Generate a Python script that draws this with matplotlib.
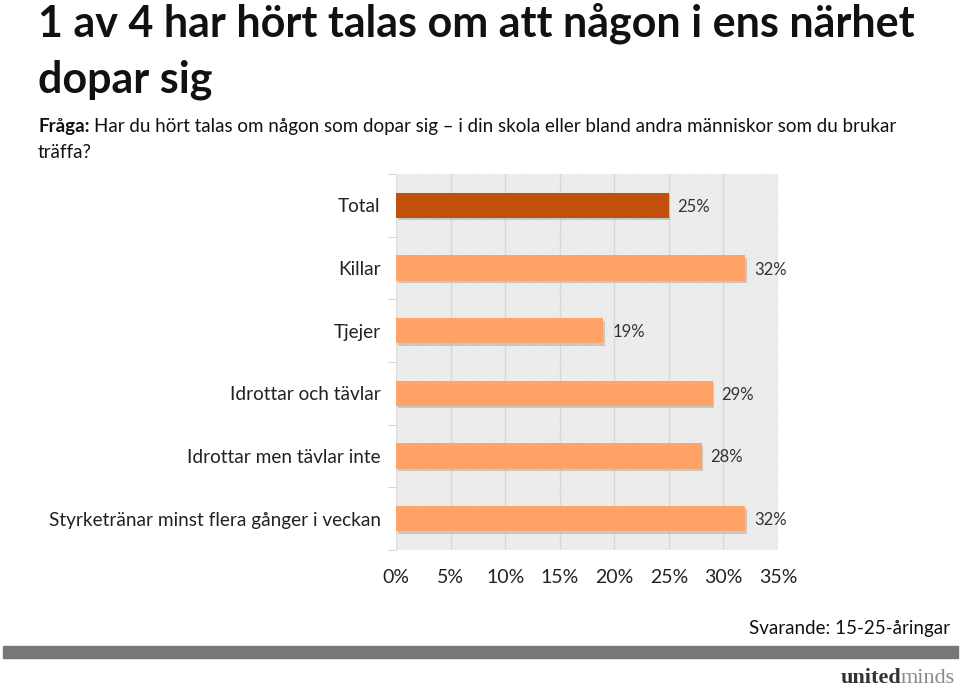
import numpy as np
import matplotlib.pyplot as plt
from matplotlib.patches import Rectangle

categories = ["Total", "Killar", "Tjejer", "Idrottar och tävlar",
              "Idrottar men tävlar inte", "Styrketränar minst flera gånger i veckan"]
values = [25, 32, 19, 29, 28, 32]
colors = ["#C0500A", "#FFA366", "#FFA366", "#FFA366", "#FFA366", "#FFA366"]
xticks = [0, 5, 10, 15, 20, 25, 30, 35]

plt.rcParams['font.family'] = ['Lato', 'DejaVu Sans']
plt.rcParams['hatch.linewidth'] = 0.5

fig = plt.figure(figsize=(9.6, 6.88), dpi=100)
W, H = 960, 688

# plot area in pixels: x 396..778, y 174..550
ax = fig.add_axes([396 / W, 1 - 550 / H, (778 - 396) / W, (550 - 174) / H])
ax.set_facecolor("#ebebeb")
ax.add_patch(Rectangle((0, 0), 1, 1, transform=ax.transAxes, facecolor="none",
                       edgecolor="#f1f1f1", hatch="//////", linewidth=0, zorder=0))

y = np.arange(len(categories))
# shadow
ax.barh(y + 0.04, values, height=0.4, left=0.15, color="#b0b0b0", alpha=0.6, zorder=2)
ax.barh(y, values, height=0.4, color=colors, zorder=3)
for yi, v in zip(y, values):
    ax.text(v + 0.8, yi, f"{v}%", va="center_baseline", ha="left", fontsize=12,
            color="#333333", zorder=4)

ax.set_xlim(0, 35)
ax.set_ylim(len(categories) - 0.5, -0.5)
ax.set_xticks(xticks)
ax.set_xticklabels([f"{t}%" for t in xticks], fontsize=14, color="#222222")
ax.set_yticks(y)
ax.set_yticklabels(categories, fontsize=13.7, color="#222222")
ax.tick_params(axis="y", length=0, pad=11)
ax.tick_params(axis="x", length=0, pad=14)
ax.set_yticks(np.arange(len(categories) + 1) - 0.5, minor=True)
ax.tick_params(axis="y", which="minor", length=6, color="#cccccc")
ax.grid(axis="x", color="#d8d8d8", linewidth=1, zorder=1)
ax.set_axisbelow(True)
for s in ["top", "right", "bottom"]:
    ax.spines[s].set_visible(False)
ax.spines["left"].set_color("#dddddd")

fig.text(38 / W, 1 - 36 / H, "1 av 4 har hört talas om att någon i ens närhet",
         fontsize=31, fontweight="bold", color="#111111", va="baseline")
fig.text(38 / W, 1 - 92 / H, "dopar sig",
         fontsize=31, fontweight="bold", color="#111111", va="baseline")
fig.text(38 / W, 1 - 132 / H, "Fråga:", fontsize=13.5, fontweight="bold", color="#111111")
fig.text(94 / W, 1 - 132 / H,
         "Har du hört talas om någon som dopar sig – i din skola eller bland andra människor som du brukar",
         fontsize=13.5, color="#111111")
fig.text(38 / W, 1 - 158 / H, "träffa?", fontsize=13.5, color="#111111")

fig.text(950 / W, 1 - 634 / H, "Svarande: 15-25-åringar", fontsize=13.5, ha="right",
         color="#111111")
fig.add_artist(Rectangle((3 / W, 1 - 658 / H), 955 / W, 12 / H, transform=fig.transFigure,
                         color="#777777"))
fig.text(901 / W, 1 - 683 / H, "united", fontsize=16, ha="right", fontweight="bold",
         family="Liberation Serif", color="#333333")
fig.text(901 / W, 1 - 683 / H, "minds", fontsize=16, ha="left",
         family="Liberation Serif", color="#888888")

fig.savefig("out.png", dpi=100)
